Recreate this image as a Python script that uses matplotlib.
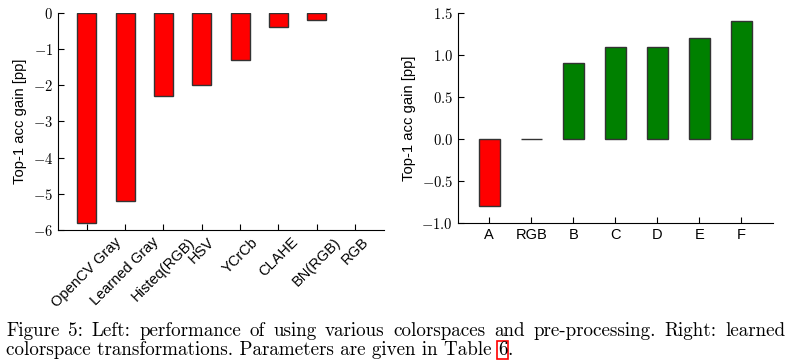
import matplotlib
matplotlib.use('Agg')
import matplotlib.pyplot as plt
from matplotlib.ticker import FuncFormatter

# dane - lewy wykres (przestrzenie kolorow)
left_labels = ['OpenCV Gray', 'Learned Gray', 'Histeq(RGB)', 'HSV', 'YCrCb', 'CLAHE', 'BN(RGB)', 'RGB']
left_values = [-5.8, -5.2, -2.3, -2.0, -1.3, -0.4, -0.2, 0.0]

# dane - prawy wykres (wyuczone transformacje)
right_labels = ['A', 'RGB', 'B', 'C', 'D', 'E', 'F']
right_values = [-0.8, 0.0, 0.9, 1.1, 1.1, 1.2, 1.4]

caption_line1 = ('Figure 5: Left: performance of using various colorspaces and pre-processing. '
                 'Right: learned')
caption_line2 = 'colorspace transformations. Parameters are given in Table '
caption_ref = '6'

plt.rcParams['mathtext.fontset'] = 'cm'
plt.rcParams['font.family'] = ['Liberation Sans', 'DejaVu Sans']
plt.rcParams['xtick.direction'] = 'in'
plt.rcParams['ytick.direction'] = 'in'

fig = plt.figure(figsize=(7.92, 3.63), dpi=100)
ax1 = fig.add_axes([0.0732, 0.3664, 0.4116, 0.5978])
ax2 = fig.add_axes([0.5779, 0.3857, 0.3981, 0.5785])

def style(ax):
    ax.spines['top'].set_visible(False)
    ax.spines['right'].set_visible(False)
    ax.xaxis.set_ticks_position('bottom')
    ax.yaxis.set_ticks_position('left')
    ax.tick_params(length=4, width=0.8, labelsize=10.5)
    ax.set_ylabel('Top-1 acc gain [pp]', fontsize=10.7)

# lewy wykres (slupek o wartosci 0 na gornej krawedzi nie jest widoczny)
x1 = range(len(left_values))
lw1 = [1 if v != 0 else 0 for v in left_values]
ax1.bar(x1, left_values, width=0.5, color='red', edgecolor='#333333', linewidth=lw1)
ax1.set_xlim(-0.75, len(left_values) - 0.25)
ax1.set_ylim(-6, 0)
ax1.set_xticks(list(x1))
ax1.set_xticklabels(left_labels, rotation=45, fontsize=10.7)
ax1.yaxis.set_major_formatter(FuncFormatter(lambda v, p: '$%g$' % v))
style(ax1)

# prawy wykres
x2 = range(len(right_values))
colors = ['red' if v < 0 else 'green' for v in right_values]
ax2.bar(x2, right_values, width=0.5, color=colors, edgecolor='#333333', linewidth=1)
ax2.set_xlim(-0.75, len(right_values) - 0.25)
ax2.set_ylim(-1.0, 1.5)
ax2.set_xticks(list(x2))
ax2.set_xticklabels(right_labels, fontsize=10.7)
ax2.set_yticks([-1.0, -0.5, 0.0, 0.5, 1.0, 1.5])
ax2.yaxis.set_major_formatter(FuncFormatter(lambda v, p: '$%.1f$' % v))
style(ax2)

# podpis - pierwsza linia wyjustowana
fig.canvas.draw()
renderer = fig.canvas.get_renderer()
cap_font = dict(family='cmr10', fontsize=13.7)
x_left, x_right = 6 / 792, 785 / 792
y1, y2 = 1 - 336 / 363, 1 - 355 / 363

words = caption_line1.split(' ')
texts = [fig.text(0, y1, w, va='baseline', **cap_font) for w in words]
widths = [t.get_window_extent(renderer).width / fig.bbox.width for t in texts]
gap = (x_right - x_left - sum(widths)) / (len(words) - 1)
pos = x_left
for t, w in zip(texts, widths):
    t.set_x(pos)
    pos += w + gap

t2 = fig.text(x_left, y2, caption_line2, va='baseline', **cap_font)
t3 = fig.text(0, y2, caption_ref, va='baseline', **cap_font,
              bbox=dict(boxstyle='square,pad=0.02', fc='none', ec='red', lw=1.2))
w2 = t2.get_window_extent(renderer).width / fig.bbox.width
t3.set_x(x_left + w2)
w3 = t3.get_window_extent(renderer).width / fig.bbox.width
fig.text(x_left + w2 + w3, y2, '.', va='baseline', **cap_font)

plt.savefig('out.png', dpi=100)
